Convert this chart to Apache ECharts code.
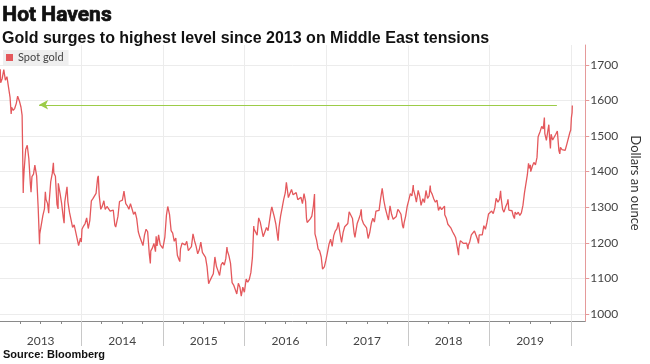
<!DOCTYPE html>
<html>
<head>
<meta charset="utf-8">
<script src="https://cdn.jsdelivr.net/npm/echarts@6/dist/echarts.min.js"></script>
<style>html,body{margin:0;padding:0;background:#fff}#c{width:650px;height:364px}</style>
</head>
<body>
<div id="c"></div>
<script>
// Spot gold, USD per ounce
const gold2013 = [['2013-01-02',1688],['2013-01-04',1650],['2013-01-11',1662],['2013-01-18',1687],['2013-01-23',1692],['2013-01-25',1657],['2013-02-01',1667],['2013-02-08',1667],['2013-02-15',1609],['2013-02-20',1562],['2013-02-22',1581],['2013-03-01',1572],['2013-03-08',1578],['2013-03-15',1592],['2013-03-21',1612],['2013-03-29',1598],['2013-04-05',1581],['2013-04-10',1558],['2013-04-12',1476],['2013-04-15',1340],['2013-04-16',1368],['2013-04-19',1404],['2013-04-26',1462],['2013-05-03',1474],['2013-05-10',1437],['2013-05-17',1365],['2013-05-20',1342],['2013-05-24',1386],['2013-05-31',1393],['2013-06-06',1418],['2013-06-14',1388],['2013-06-21',1297],['2013-06-27',1196],['2013-06-28',1225],['2013-07-05',1223],['2013-07-12',1277],['2013-07-19',1295],['2013-07-23',1343],['2013-07-26',1322],['2013-08-02',1310],['2013-08-07',1283],['2013-08-09',1313],['2013-08-16',1371],['2013-08-23',1395],['2013-08-28',1425],['2013-08-30',1396],['2013-09-06',1387],['2013-09-13',1308],['2013-09-18',1295],['2013-09-19',1367],['2013-09-27',1338],['2013-10-04',1310],['2013-10-11',1272],['2013-10-15',1255],['2013-10-18',1315],['2013-10-28',1357],['2013-11-01',1315],['2013-11-08',1286],['2013-11-15',1288],['2013-11-22',1243],['2013-11-29',1250],['2013-12-06',1230],['2013-12-13',1234],['2013-12-19',1192],['2013-12-27',1213],['2013-12-31',1202]];
const gold2014 = [['2014-01-03',1238],['2014-01-10',1247],['2014-01-17',1254],['2014-01-24',1270],['2014-01-31',1240],['2014-02-07',1262],['2014-02-14',1318],['2014-02-21',1324],['2014-02-28',1326],['2014-03-07',1339],['2014-03-14',1382],['2014-03-17',1388],['2014-03-21',1334],['2014-03-28',1294],['2014-04-04',1303],['2014-04-11',1318],['2014-04-17',1294],['2014-04-25',1302],['2014-05-02',1301],['2014-05-09',1289],['2014-05-16',1293],['2014-05-23',1292],['2014-05-30',1250],['2014-06-03',1244],['2014-06-13',1274],['2014-06-20',1316],['2014-06-27',1317],['2014-07-03',1320],['2014-07-10',1345],['2014-07-18',1310],['2014-07-25',1304],['2014-08-01',1294],['2014-08-08',1310],['2014-08-15',1306],['2014-08-22',1280],['2014-08-29',1287],['2014-09-05',1268],['2014-09-12',1231],['2014-09-19',1216],['2014-09-26',1215],['2014-10-03',1192],['2014-10-10',1222],['2014-10-17',1238],['2014-10-24',1231],['2014-10-31',1171],['2014-11-05',1142],['2014-11-07',1177],['2014-11-14',1185],['2014-11-21',1198],['2014-11-28',1175],['2014-12-01',1218],['2014-12-05',1191],['2014-12-12',1222],['2014-12-19',1195],['2014-12-26',1195],['2014-12-31',1184]];
const gold2015 = [['2015-01-02',1187],['2015-01-09',1216],['2015-01-16',1277],['2015-01-22',1302],['2015-01-30',1279],['2015-02-06',1234],['2015-02-13',1227],['2015-02-20',1204],['2015-02-27',1213],['2015-03-06',1165],['2015-03-13',1153],['2015-03-17',1147],['2015-03-20',1183],['2015-03-27',1199],['2015-04-03',1201],['2015-04-10',1194],['2015-04-17',1204],['2015-04-24',1178],['2015-05-01',1175],['2015-05-08',1189],['2015-05-15',1225],['2015-05-22',1205],['2015-05-29',1190],['2015-06-05',1169],['2015-06-12',1180],['2015-06-19',1202],['2015-06-26',1173],['2015-07-02',1168],['2015-07-10',1159],['2015-07-17',1132],['2015-07-24',1085],['2015-07-31',1095],['2015-08-07',1094],['2015-08-14',1113],['2015-08-21',1160],['2015-08-24',1165],['2015-08-28',1133],['2015-09-04',1121],['2015-09-11',1108],['2015-09-18',1138],['2015-09-25',1145],['2015-10-02',1137],['2015-10-09',1156],['2015-10-14',1188],['2015-10-16',1177],['2015-10-23',1163],['2015-10-30',1142],['2015-11-06',1088],['2015-11-13',1081],['2015-11-20',1076],['2015-11-27',1056],['2015-12-04',1086],['2015-12-11',1075],['2015-12-17',1050],['2015-12-24',1075],['2015-12-31',1061]];
const gold2016 = [['2016-01-08',1098],['2016-01-15',1089],['2016-01-22',1097],['2016-01-29',1116],['2016-02-05',1158],['2016-02-11',1247],['2016-02-12',1239],['2016-02-19',1230],['2016-02-26',1221],['2016-03-04',1270],['2016-03-11',1258],['2016-03-18',1254],['2016-03-24',1217],['2016-04-01',1222],['2016-04-08',1243],['2016-04-15',1234],['2016-04-22',1232],['2016-04-29',1293],['2016-05-02',1301],['2016-05-06',1290],['2016-05-13',1273],['2016-05-20',1252],['2016-05-30',1206],['2016-06-03',1243],['2016-06-10',1275],['2016-06-17',1298],['2016-06-24',1322],['2016-07-01',1340],['2016-07-06',1370],['2016-07-08',1366],['2016-07-15',1327],['2016-07-22',1323],['2016-07-29',1350],['2016-08-05',1335],['2016-08-12',1336],['2016-08-19',1341],['2016-08-26',1321],['2016-09-02',1324],['2016-09-09',1328],['2016-09-16',1310],['2016-09-23',1338],['2016-09-30',1316],['2016-10-04',1269],['2016-10-07',1257],['2016-10-14',1252],['2016-10-21',1267],['2016-10-28',1275],['2016-11-04',1304],['2016-11-09',1337],['2016-11-11',1225],['2016-11-18',1208],['2016-11-25',1183],['2016-12-02',1177],['2016-12-09',1160],['2016-12-15',1126],['2016-12-23',1132],['2016-12-30',1151]];
const gold2017 = [['2017-01-06',1173],['2017-01-13',1196],['2017-01-20',1210],['2017-01-27',1190],['2017-02-03',1220],['2017-02-10',1233],['2017-02-17',1239],['2017-02-24',1257],['2017-03-03',1226],['2017-03-10',1201],['2017-03-14',1198],['2017-03-17',1229],['2017-03-24',1245],['2017-03-31',1248],['2017-04-07',1254],['2017-04-13',1287],['2017-04-21',1284],['2017-04-28',1268],['2017-05-05',1228],['2017-05-09',1215],['2017-05-12',1228],['2017-05-19',1254],['2017-05-26',1266],['2017-06-02',1279],['2017-06-06',1294],['2017-06-09',1266],['2017-06-16',1254],['2017-06-23',1256],['2017-06-30',1242],['2017-07-07',1212],['2017-07-10',1207],['2017-07-14',1228],['2017-07-21',1254],['2017-07-28',1269],['2017-08-04',1258],['2017-08-11',1289],['2017-08-18',1285],['2017-08-25',1291],['2017-09-01',1325],['2017-09-08',1353],['2017-09-15',1320],['2017-09-22',1297],['2017-09-29',1280],['2017-10-06',1264],['2017-10-13',1304],['2017-10-20',1280],['2017-10-27',1266],['2017-11-03',1269],['2017-11-10',1274],['2017-11-17',1294],['2017-11-24',1288],['2017-12-01',1280],['2017-12-08',1248],['2017-12-12',1241],['2017-12-15',1256],['2017-12-22',1275],['2017-12-29',1303]];
const gold2018 = [['2018-01-05',1320],['2018-01-12',1338],['2018-01-19',1332],['2018-01-25',1362],['2018-01-26',1350],['2018-02-02',1333],['2018-02-08',1314],['2018-02-16',1347],['2018-02-23',1330],['2018-03-01',1305],['2018-03-09',1324],['2018-03-16',1313],['2018-03-23',1347],['2018-03-30',1325],['2018-04-06',1332],['2018-04-11',1361],['2018-04-13',1345],['2018-04-20',1336],['2018-04-27',1323],['2018-05-04',1314],['2018-05-11',1320],['2018-05-18',1291],['2018-05-25',1301],['2018-06-01',1293],['2018-06-08',1298],['2018-06-14',1303],['2018-06-15',1279],['2018-06-22',1269],['2018-06-29',1252],['2018-07-06',1255],['2018-07-13',1241],['2018-07-20',1231],['2018-07-27',1223],['2018-08-03',1214],['2018-08-10',1212],['2018-08-16',1165],['2018-08-17',1184],['2018-08-24',1206],['2018-08-31',1201],['2018-09-07',1198],['2018-09-14',1194],['2018-09-21',1199],['2018-09-27',1182],['2018-09-28',1192],['2018-10-05',1203],['2018-10-12',1222],['2018-10-19',1227],['2018-10-26',1233],['2018-11-02',1233],['2018-11-09',1209],['2018-11-13',1198],['2018-11-16',1222],['2018-11-23',1223],['2018-11-30',1222],['2018-12-07',1248],['2018-12-14',1238],['2018-12-21',1257],['2018-12-28',1281]];
const gold2019 = [['2019-01-04',1285],['2019-01-11',1289],['2019-01-18',1282],['2019-01-25',1298],['2019-01-31',1325],['2019-02-08',1314],['2019-02-15',1322],['2019-02-20',1346],['2019-02-22',1328],['2019-03-01',1294],['2019-03-07',1286],['2019-03-15',1302],['2019-03-22',1312],['2019-03-25',1322],['2019-03-29',1292],['2019-04-05',1291],['2019-04-12',1290],['2019-04-18',1275],['2019-04-23',1268],['2019-04-26',1286],['2019-05-03',1280],['2019-05-10',1286],['2019-05-17',1277],['2019-05-24',1284],['2019-05-31',1305],['2019-06-07',1341],['2019-06-14',1341],['2019-06-20',1392],['2019-06-21',1399],['2019-06-25',1423],['2019-06-28',1409],['2019-07-03',1419],['2019-07-05',1400],['2019-07-12',1415],['2019-07-19',1426],['2019-07-26',1419],['2019-08-02',1440],['2019-08-07',1498],['2019-08-09',1497],['2019-08-16',1513],['2019-08-23',1527],['2019-08-30',1520],['2019-09-04',1552],['2019-09-06',1507],['2019-09-13',1488],['2019-09-20',1517],['2019-09-24',1532],['2019-09-27',1497],['2019-10-01',1465],['2019-10-04',1505],['2019-10-11',1489],['2019-10-18',1490],['2019-10-25',1505],['2019-11-01',1514],['2019-11-08',1459],['2019-11-12',1450],['2019-11-15',1468],['2019-11-22',1462],['2019-11-29',1464],['2019-12-06',1460],['2019-12-13',1476],['2019-12-20',1478],['2019-12-27',1510],['2019-12-31',1517]];
const gold2020 = [['2020-01-03',1552],['2020-01-06',1566],['2020-01-07',1586]];

// Reference arrow level (USD/oz) and its span
const arrowLevel = 1588;
const arrowFrom = '2013-06-25';
const arrowTo = '2019-10-30';

// Axis labels / ticks
const yearLabels = ['2013','2014','2015','2016','2017','2018','2019'];
const yearBoundaries = ['2014','2015','2016','2017','2018','2019','2020'];
const yTicks = [1000,1100,1200,1300,1400,1500,1600,1700];
const seriesName = 'Spot gold';

const t = s => { const p = s.split('-').map(Number); return new Date(p[0], (p[1]||1)-1, p[2]||1).getTime(); };
const allData = [].concat(gold2013, gold2014, gold2015, gold2016, gold2017, gold2018, gold2019, gold2020).map(d => [t(d[0]), d[1]]);
const labelValues = yearLabels.map(y => t(y + '-07-02'));
const boundaryValues = yearBoundaries.map(y => t(y + '-01-01'));
const quarterValues = [];
yearLabels.forEach(y => ['04','07','10'].forEach(m => quarterValues.push(t(y + '-' + m + '-01'))));

const HEAD = '"Liberation Sans", Arial, sans-serif';
const FONT = 'Lato, "Liberation Sans", sans-serif';
const xMin = t('2013-01-01'), xMax = t('2020-03-05');

const chart = echarts.init(document.getElementById('c'), null, {renderer: 'canvas'});
chart.setOption({
  animation: false,
  backgroundColor: '#fff',
  graphic: [
    {type: 'text', left: 2, top: 5, silent: true, style: {text: 'Hot Havens', fontFamily: 'Roboto, "DejaVu Sans", sans-serif', fontSize: 21, fontWeight: 'bold', fill: '#111', stroke: '#111', lineWidth: 0.7}}
  ],
  title: [
    {text: 'Gold surges to highest level since 2013 on Middle East tensions', left: 2, top: 31, padding: 0, textStyle: {fontFamily: HEAD, fontSize: 16, fontWeight: 700, color: '#111'}},
    {text: 'Source: Bloomberg', left: 3, top: 349, padding: 0, textStyle: {fontFamily: HEAD, fontSize: 11, fontWeight: 700, color: '#111'}}
  ],
  legend: {
    left: 3, top: 50, padding: [2, 5, 2, 3], backgroundColor: '#efefef',
    itemWidth: 7, itemHeight: 7, itemGap: 4, icon: 'rect',
    textStyle: {fontFamily: FONT, fontSize: 11, color: '#444'},
    data: [seriesName]
  },
  grid: {left: 0, right: 49, top: 45, bottom: 43, containLabel: false},
  xAxis: [
    {
      type: 'value', min: xMin, max: xMax, position: 'bottom',
      axisLine: {show: true, onZero: false, lineStyle: {color: '#8a8a8a', width: 1}},
      axisTick: {show: true, customValues: boundaryValues, length: 25, lineStyle: {color: '#c8c8c8'}},
      axisLabel: {show: true, customValues: labelValues, formatter: v => String(new Date(v).getFullYear()), fontFamily: FONT, fontSize: 12, color: '#444', margin: 14},
      splitLine: {show: true, lineStyle: {color: '#ececec'}}
    },
    {
      type: 'value', min: xMin, max: xMax, position: 'bottom', gridIndex: 0,
      axisLine: {show: false, onZero: false},
      axisTick: {show: true, customValues: quarterValues, length: 3, lineStyle: {color: '#888'}},
      axisLabel: {show: false},
      splitLine: {show: false}
    }
  ],
  yAxis: {
    type: 'value', position: 'right', min: 980, max: 1756,
    axisLine: {show: true, lineStyle: {color: '#e59a9a'}},
    axisTick: {show: true, customValues: yTicks, length: 4, lineStyle: {color: '#e59a9a'}},
    axisLabel: {show: true, customValues: yTicks, formatter: v => String(v), fontFamily: FONT, fontSize: 12, color: '#444', margin: 5},
    splitLine: {show: true, lineStyle: {color: '#ececec'}},
    name: 'Dollars an ounce', nameLocation: 'middle', nameRotate: -90, nameGap: 30,
    nameTextStyle: {fontFamily: FONT, fontSize: 13, color: '#333'}
  },
  series: [{
    name: seriesName, type: 'line', data: allData, showSymbol: false, symbol: 'none',
    lineStyle: {color: '#e4585c', width: 1.3}, itemStyle: {color: '#e4585c'},
    markLine: {
      silent: true, symbol: ['arrow', 'none'], symbolSize: [7, 9],
      label: {show: false},
      lineStyle: {color: '#9ccc48', width: 1.2, type: 'solid'},
      data: [[{coord: [t(arrowFrom), arrowLevel]}, {coord: [t(arrowTo), arrowLevel]}]]
    }
  }]
});
</script>
</body>
</html>
